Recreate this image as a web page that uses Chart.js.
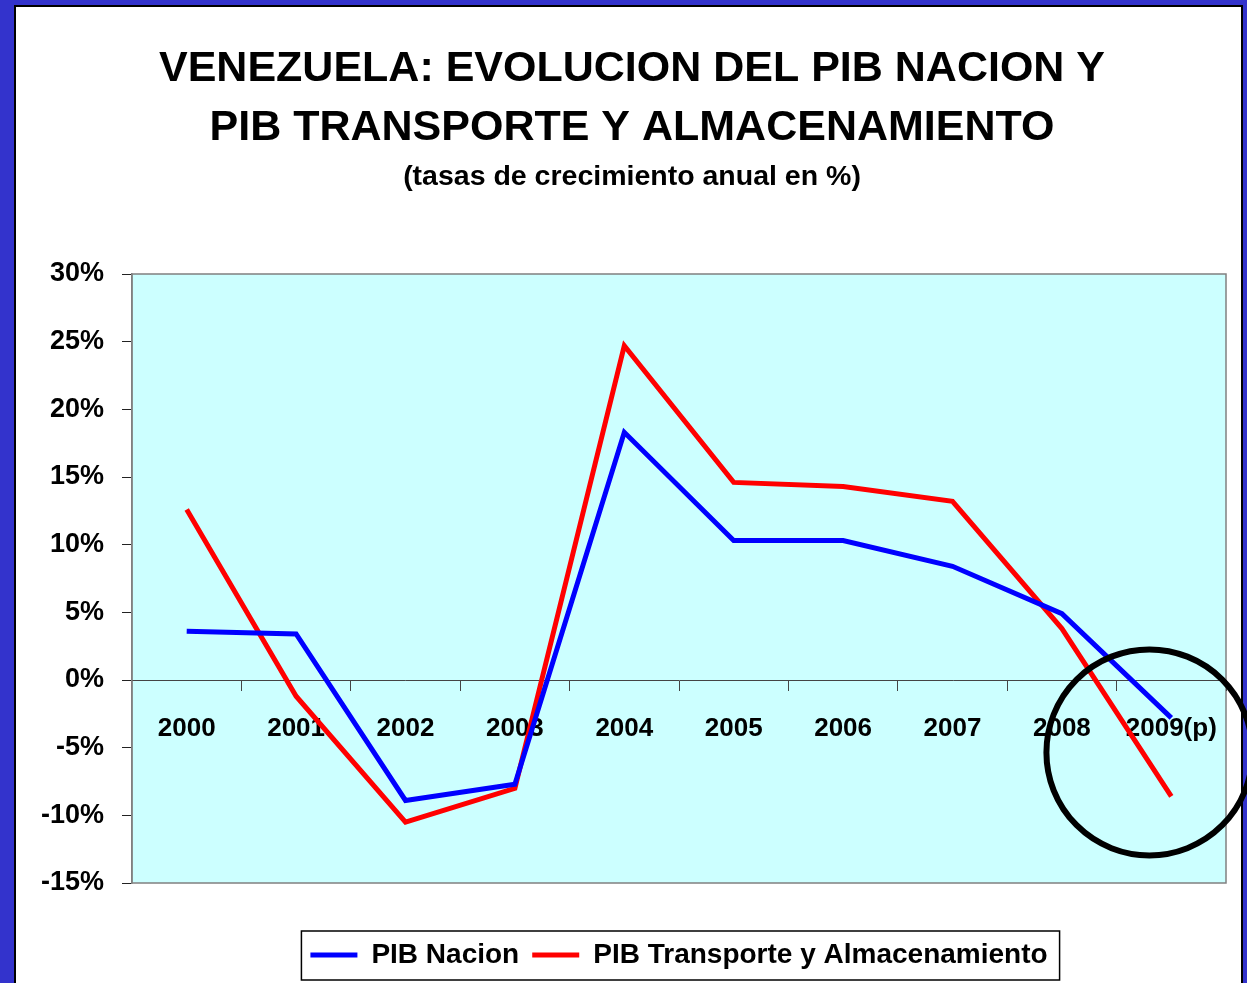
<!DOCTYPE html>
<html>
<head>
<meta charset="utf-8">
<title>Venezuela PIB</title>
<script src="https://cdn.jsdelivr.net/npm/chart.js@4/dist/chart.umd.min.js"></script>
<style>
  html, body { margin: 0; padding: 0; background: #3333cc; }
  canvas { display: block; }
</style>
</head>
<body>
<canvas id="pib-chart" width="1247" height="983"></canvas>
<script>
// Values
const years = ['2000', '2001', '2002', '2003', '2004', '2005', '2006', '2007', '2008', '2009(p)'];
const pibNacion = [3.6, 3.4, -8.9, -7.7, 18.3, 10.3, 10.3, 8.4, 4.9, -2.8];
const pibTransporte = [12.6, -1.2, -10.5, -8.0, 24.7, 14.6, 14.3, 13.2, 3.8, -8.6];

const titleLines = ['VENEZUELA: EVOLUCION DEL PIB NACION Y', 'PIB TRANSPORTE Y ALMACENAMIENTO'];
const subtitleText = '(tasas de crecimiento anual en %)';
const yMin = -15, yMax = 30, yStep = 5;

// highlight circle around the last year (category index, value)
const highlight = { index: 8.8, value: -5.35, radius: 103 };

const FONT = "'Liberation Sans', Arial, sans-serif";

// frame, plot background and highlight circle
const decorations = {
    id: 'decorations',
    beforeDraw(chart) {
        const ctx = chart.ctx;
        const { width, height, chartArea } = chart;
        ctx.save();
        ctx.fillStyle = '#3333cc';
        ctx.fillRect(0, 0, width, height);
        ctx.fillStyle = '#ffffff';
        ctx.fillRect(15, 6, 1228, height);
        ctx.strokeStyle = '#000000';
        ctx.lineWidth = 2;
        ctx.beginPath();
        ctx.moveTo(15, height);
        ctx.lineTo(15, 6);
        ctx.lineTo(1242, 6);
        ctx.lineTo(1242, height);
        ctx.stroke();
        ctx.fillStyle = '#ccffff';
        ctx.fillRect(chartArea.left, chartArea.top, chartArea.width, chartArea.height);
        ctx.strokeStyle = '#808080';
        ctx.lineWidth = 1.5;
        ctx.strokeRect(chartArea.left, chartArea.top, chartArea.width, chartArea.height);
        ctx.restore();
    },
    afterDraw(chart) {
        const ctx = chart.ctx;
        // legend frame
        const boxes = chart.legend.legendHitBoxes;
        if (boxes && boxes.length) {
            const left = Math.min(...boxes.map(b => b.left)) - 9;
            const right = Math.max(...boxes.map(b => b.left + b.width)) + 12;
            const top = Math.min(...boxes.map(b => b.top)) - 10;
            const bottom = Math.max(...boxes.map(b => b.top + b.height)) + 11;
            ctx.save();
            ctx.strokeStyle = '#000000';
            ctx.lineWidth = 1.5;
            ctx.strokeRect(left, top, right - left, bottom - top);
            ctx.restore();
        }
        // circle annotation
        const cx = chart.scales.x.getPixelForValue(highlight.index);
        const cy = chart.scales.y.getPixelForValue(highlight.value);
        ctx.save();
        ctx.strokeStyle = '#000000';
        ctx.lineWidth = 6;
        ctx.beginPath();
        ctx.arc(cx, cy, highlight.radius, 0, Math.PI * 2);
        ctx.stroke();
        ctx.restore();
    }
};

new Chart(document.getElementById('pib-chart'), {
    type: 'line',
    data: {
        labels: years,
        datasets: [{
            label: 'PIB Nacion',
            data: pibNacion,
            borderColor: '#0000ff',
            backgroundColor: '#0000ff',
            borderWidth: 5,
            pointRadius: 0,
            tension: 0
        }, {
            label: 'PIB Transporte y Almacenamiento',
            data: pibTransporte,
            borderColor: '#ff0000',
            backgroundColor: '#ff0000',
            borderWidth: 5,
            pointRadius: 0,
            tension: 0
        }]
    },
    options: {
        responsive: false,
        animation: false,
        layout: { padding: { left: 38, right: 21, top: 0, bottom: 4 } },
        plugins: {
            title: {
                display: true,
                text: titleLines,
                color: '#000',
                font: { family: FONT, size: 43, weight: 'bold', lineHeight: 59 / 43 },
                padding: { top: 39.5, bottom: 0 }
            },
            subtitle: {
                display: true,
                text: subtitleText,
                color: '#000',
                font: { family: FONT, size: 28.5, weight: 'bold', lineHeight: 1.2 },
                padding: { top: 2.4, bottom: 79.9 }
            },
            legend: {
                position: 'bottom',
                fullSize: false,
                title: {
                    display: true,
                    text: ' ',
                    font: { size: 10, lineHeight: 1 },
                    padding: { top: 35, bottom: 0 }
                },
                labels: {
                    usePointStyle: true,
                    pointStyle: 'line',
                    pointStyleWidth: 47,
                    padding: 13,
                    color: '#000',
                    font: { family: FONT, size: 28, weight: 'bold' }
                }
            },
            tooltip: { enabled: false }
        },
        scales: {
            x: {
                position: { y: 0 },
                offset: true,
                grid: {
                    offset: true,
                    drawOnChartArea: false,
                    drawTicks: true,
                    tickLength: 10,
                    tickColor: '#444'
                },
                border: { display: true, color: '#444', width: 1 },
                ticks: {
                    padding: 23,
                    color: '#000',
                    maxRotation: 0,
                    font: { family: FONT, size: 26, weight: 'bold', lineHeight: 1.2 }
                }
            },
            y: {
                min: yMin,
                max: yMax,
                afterFit(scale) { scale.width = 94; },
                grid: {
                    drawOnChartArea: false,
                    drawTicks: true,
                    tickLength: 10,
                    tickColor: '#222'
                },
                border: { display: true, color: '#808080', width: 1.5 },
                ticks: {
                    stepSize: yStep,
                    padding: 18,
                    color: '#000',
                    font: { family: FONT, size: 27, weight: 'bold' },
                    callback: v => v + '%'
                }
            }
        }
    },
    plugins: [decorations]
});
</script>
</body>
</html>
